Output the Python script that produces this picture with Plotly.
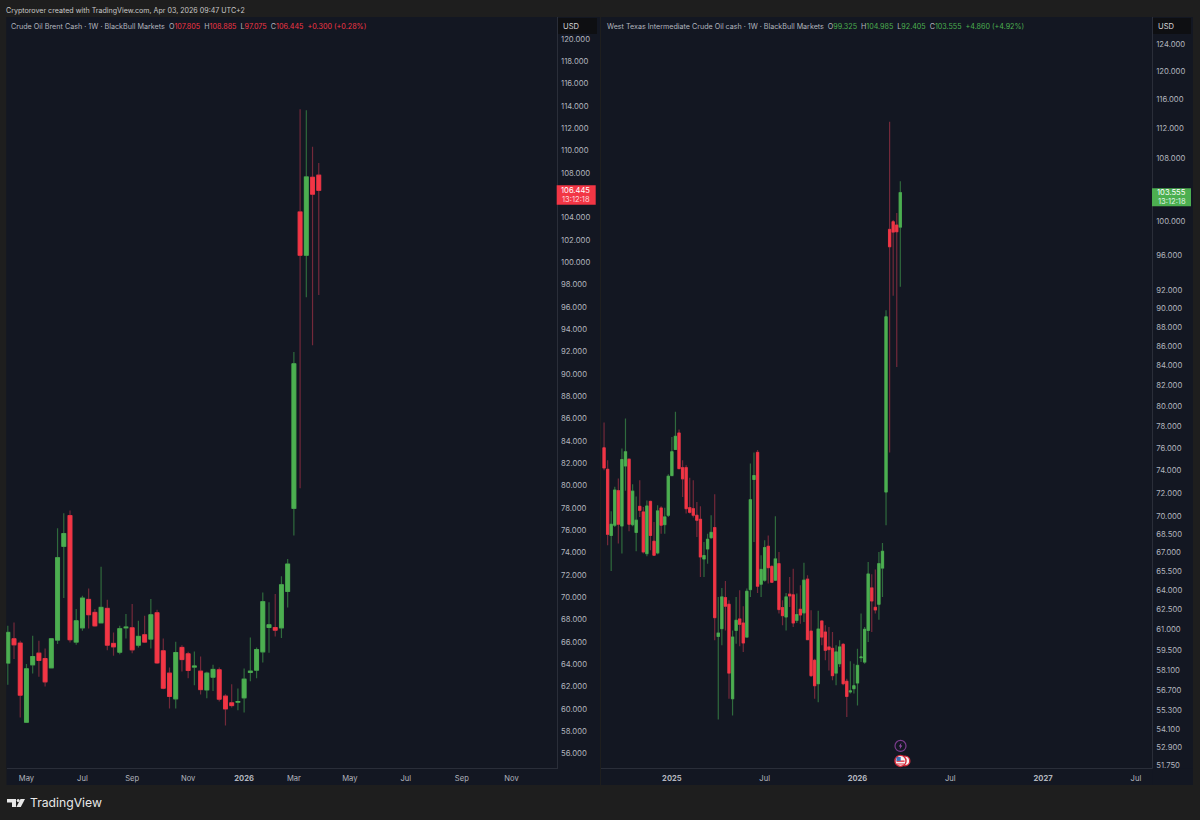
import pandas as pd
import plotly.graph_objects as go

# brent weekly candles
brent_start = "2025-04-14"
brent_open = [64.10, 66.28, 65.89, 58.80, 63.95, 64.99, 64.51, 63.68, 66.16, 74.56,
              77.31, 65.98, 67.26, 69.80, 68.64, 67.71, 69.00, 65.86, 65.08, 67.26,
              67.26, 65.71, 66.64, 66.25, 68.61, 65.20, 63.20, 60.90, 65.50, 64.93,
              63.74, 63.38, 61.70, 62.84, 63.50, 61.14, 60.54, 60.60, 60.99, 63.26,
              63.47, 65.11, 67.29, 67.29, 67.26, 70.52, 77.96, 104.51, 100.63, 107.62,
              107.805]
brent_close = [66.85, 65.74, 61.23, 63.59, 64.69, 64.34, 62.42, 66.28, 73.54, 75.70,
               66.19, 67.89, 69.92, 68.43, 67.44, 69.09, 65.71, 65.56, 67.18, 67.32,
               65.29, 66.49, 65.98, 68.43, 64.12, 61.85, 61.11, 65.05, 64.42, 63.44,
               63.83, 61.73, 63.20, 63.53, 60.87, 60.00, 60.30, 60.66, 62.66, 63.38,
               65.32, 69.60, 67.53, 67.05, 71.12, 72.97, 90.91, 100.63, 107.65, 106.10,
               106.445]
brent_high = [67.44, 67.74, 66.10, 64.01, 66.55, 66.10, 65.41, 66.28, 76.17, 77.52,
              77.76, 68.94, 70.13, 70.79, 68.94, 72.74, 69.78, 66.85, 67.44, 68.49,
              69.39, 67.89, 68.34, 69.84, 68.88, 66.31, 63.71, 66.01, 65.71, 65.11,
              65.14, 64.69, 63.32, 63.95, 63.71, 61.32, 62.21, 61.82, 63.62, 66.40,
              65.50, 70.43, 69.54, 70.28, 71.87, 73.42, 91.96, 113.72, 113.63, 110.34,
              108.885]
brent_low = [62.15, 64.47, 59.22, 58.80, 63.17, 62.87, 62.00, 63.68, 65.80, 69.92,
             65.95, 65.74, 66.99, 67.20, 67.36, 67.71, 65.26, 64.75, 64.90, 66.31,
             64.99, 65.50, 65.89, 65.41, 64.01, 61.76, 60.03, 60.03, 63.35, 62.75,
             62.12, 61.29, 60.96, 61.61, 60.66, 58.50, 60.12, 59.88, 59.67, 62.48,
             62.75, 64.16, 65.02, 66.49, 66.34, 69.09, 75.52, 79.76, 96.86, 92.56,
             97.075]

# wti weekly candles
wti_start = "2024-08-26"
wti_open = [76.03, 74.08, 68.38, 69.23, 72.19, 69.17, 74.38, 74.99, 69.28, 68.63,
            70.83, 70.35, 66.89, 71.25, 67.90, 66.95, 70.69, 69.28, 70.07, 73.52,
            75.88, 77.41, 74.23, 74.23, 70.72, 70.63, 70.07, 69.73, 66.46, 67.27,
            68.19, 69.03, 60.51, 61.08, 63.42, 62.91, 56.11, 60.95, 61.80, 61.50,
            60.46, 64.04, 73.17, 75.61, 64.46, 64.77, 67.49, 65.86, 64.77, 66.08,
            62.66, 61.95, 63.68, 63.63, 61.70, 62.53, 62.26, 64.85, 60.90, 58.78,
            57.14, 61.65, 60.83, 59.74, 59.64, 57.88, 58.54, 59.93, 57.31, 56.58,
            56.80, 57.19, 58.97, 58.66, 60.95, 64.17, 62.68, 62.91, 65.73, 72.07,
            99.05, 99.97, 99.57, 99.325]
wti_close = [74.20, 68.47, 69.31, 72.24, 69.31, 74.96, 75.67, 69.31, 72.14, 69.65,
             70.49, 67.03, 70.86, 68.38, 66.76, 70.44, 69.23, 69.93, 73.46, 75.67,
             77.10, 74.14, 73.23, 70.63, 70.32, 70.07, 69.65, 66.62, 66.73, 68.06,
             68.63, 61.90, 60.75, 63.47, 62.76, 57.88, 60.46, 61.70, 61.40, 60.03,
             63.91, 71.40, 73.52, 64.30, 65.62, 67.38, 65.76, 64.61, 66.46, 62.51,
             62.05, 63.47, 63.55, 61.50, 62.13, 62.10, 64.77, 60.27, 57.70, 57.00,
             61.05, 60.46, 59.50, 59.55, 57.70, 59.38, 59.74, 57.14, 56.27, 56.64,
             57.00, 58.42, 59.02, 61.03, 65.26, 63.16, 62.48, 66.08, 67.08, 89.10,
             96.99, 98.73, 98.77, 103.555]
wti_high = [78.40, 74.90, 70.41, 72.53, 73.26, 75.97, 78.79, 75.05, 72.76, 71.69,
            73.11, 70.77, 71.34, 71.34, 69.51, 70.92, 70.83, 70.72, 73.64, 77.04,
            79.42, 77.73, 74.90, 74.44, 73.32, 73.11, 71.20, 70.83, 67.84, 68.52,
            70.07, 71.87, 63.47, 64.17, 64.70, 63.21, 60.95, 63.47, 63.99, 62.76,
            64.12, 74.60, 75.61, 75.82, 66.76, 67.98, 68.38, 65.95, 69.99, 67.03,
            63.21, 63.78, 65.03, 65.68, 63.73, 64.38, 66.16, 65.16, 62.46, 58.90,
            62.41, 61.70, 61.33, 61.20, 60.83, 59.86, 60.22, 60.03, 57.49, 58.71,
            58.54, 59.62, 62.21, 61.20, 66.21, 65.23, 65.62, 67.03, 67.76, 89.82,
            112.85, 100.20, 101.04, 104.985]
wti_low = [73.99, 67.57, 65.50, 69.08, 67.71, 66.89, 72.19, 68.72, 69.14, 67.08,
           69.93, 66.89, 66.68, 67.16, 66.76, 66.84, 68.52, 68.52, 69.93, 73.46,
           75.82, 74.14, 71.64, 70.21, 70.21, 69.88, 68.25, 65.03, 65.03, 66.08,
           68.11, 60.22, 54.71, 59.86, 60.95, 56.11, 54.99, 59.98, 59.79, 59.38,
           60.46, 63.47, 67.84, 63.78, 63.47, 64.64, 64.51, 64.56, 64.72, 62.21,
           61.33, 60.95, 62.71, 61.20, 61.50, 61.45, 61.58, 60.22, 57.61, 56.11,
           55.88, 59.86, 58.78, 58.07, 57.38, 57.03, 58.30, 57.03, 54.88, 56.46,
           56.46, 55.66, 58.66, 58.54, 60.10, 60.83, 62.21, 61.75, 63.47, 69.22,
           75.61, 91.40, 83.86, 92.405]

brent_tick_dates = ["2025-05-05", "2025-07-07", "2025-09-01", "2025-11-03", "2026-01-05",
                    "2026-03-02", "2026-05-04", "2026-07-06", "2026-09-07", "2026-11-02"]
brent_tick_text = ["May", "Jul", "Sep", "Nov", "<b>2026</b>", "Mar", "May", "Jul", "Sep", "Nov"]
wti_tick_dates = ["2025-01-06", "2025-07-07", "2026-01-05", "2026-07-06", "2027-01-04", "2027-07-05"]
wti_tick_text = ["<b>2025</b>", "Jul", "<b>2026</b>", "Jul", "<b>2027</b>", "Jul"]
# 106 and 104 sit under the last-price tags in the reference
brent_prices = [56, 58, 60, 62, 64, 66, 68, 70, 72, 74, 76, 78, 80, 82, 84, 86, 88, 90, 92, 94,
                96, 98, 100, 102, 104, 108, 110, 112, 114, 116, 118, 120]
wti_prices = [51.75, 52.9, 54.1, 55.3, 56.7, 58.1, 59.5, 61, 62.5, 64, 65.5, 67, 68.5, 70, 72, 74,
              76, 78, 80, 82, 84, 86, 88, 90, 92, 96, 100, 108, 112, 116, 120, 124]

BG = "#1e1e1e"
PANEL = "#131722"
GRID = "#2a2e39"
TEXT = "#b2b5be"
GREEN = "#4caf50"
RED = "#f23645"
GREEN_WICK = "#2f6a3d"
RED_WICK = "#73293a"
FONT = "Inter"


def px(x):
    return x / 1200


def py(y):
    return 1 - y / 820


def add_candles(fig, dates, o, h, l, c, xname, yname):
    # wicks are dimmer than the bodies, so draw them as a separate trace underneath
    fig.add_trace(go.Candlestick(
        x=dates, open=o, high=h, low=l, close=c, xaxis=xname, yaxis=yname,
        increasing=dict(line=dict(color=GREEN_WICK, width=1.2), fillcolor=GREEN),
        decreasing=dict(line=dict(color=RED_WICK, width=1.2), fillcolor=RED),
        hoverinfo="skip", showlegend=False))
    top = [max(a, b) for a, b in zip(o, c)]
    bottom = [min(a, b) for a, b in zip(o, c)]
    fig.add_trace(go.Candlestick(
        x=dates, open=o, high=top, low=bottom, close=c, xaxis=xname, yaxis=yname,
        increasing=dict(line=dict(color=GREEN, width=0.8), fillcolor=GREEN),
        decreasing=dict(line=dict(color=RED, width=0.8), fillcolor=RED),
        hoverinfo="skip", showlegend=False))


def rect(x0, y0, x1, y1, fill, layer="below", line=None):
    return dict(type="rect", xref="paper", yref="paper", x0=px(x0), x1=px(x1), y0=py(y0), y1=py(y1),
                fillcolor=fill, line=dict(color=line or fill, width=1 if line else 0), layer=layer)


def circle(cx, cy, r, fill, line, width=1.2):
    return dict(type="circle", xref="paper", yref="paper", x0=px(cx - r), x1=px(cx + r),
                y0=py(cy + r), y1=py(cy - r), fillcolor=fill, line=dict(color=line, width=width),
                layer="above")


def poly(points, fill):
    d = "M " + " L ".join(f"{px(x):.5f},{py(y):.5f}" for x, y in points) + " Z"
    return dict(type="path", xref="paper", yref="paper", path=d, fillcolor=fill,
                line=dict(width=0), layer="above")


def note(text, x, y, size, color=TEXT, anchor="left"):
    return dict(text=text, x=px(x), y=py(y), xref="paper", yref="paper", showarrow=False,
                xanchor=anchor, yanchor="middle", align=anchor, font=dict(family=FONT, size=size, color=color))


def coloured(color, text):
    return f'<span style="color:{color}">{text}</span>'


brent_dates = pd.date_range(brent_start, periods=len(brent_open), freq="7D")
wti_dates = pd.date_range(wti_start, periods=len(wti_open), freq="7D")

fig = go.Figure()
add_candles(fig, brent_dates, brent_open, brent_high, brent_low, brent_close, "x", "y")
add_candles(fig, wti_dates, wti_open, wti_high, wti_low, wti_close, "x2", "y2")

plot_bottom = 53 / 820
plot_top = 803 / 820
axis_style = dict(showgrid=False, zeroline=False, showline=True, linecolor=GRID, linewidth=1,
                  ticks="outside", ticklen=3, tickcolor=PANEL,
                  tickfont=dict(family=FONT, size=7.6, color=TEXT), tickmode="array")
y_style = dict(axis_style, side="right", ticklen=2,
               tickformat=".3f", tickfont=dict(family=FONT, size=7.7, color=TEXT))

# rendered page came out ~3px short at the bottom, so the figure is a touch taller than the window
fig.update_layout(
    width=1200, height=823, margin=dict(l=0, r=0, t=0, b=0),
    paper_bgcolor=BG, plot_bgcolor=PANEL, boxmode="overlay", boxgap=0.38, boxgroupgap=0,
    hovermode=False, showlegend=False,
    xaxis=dict(axis_style, domain=[px(6.5), px(556.5)], anchor="y", rangeslider=dict(visible=False),
               type="date", range=["2025-04-12 13:00", "2026-12-22 14:00"],
               tickvals=brent_tick_dates, ticktext=brent_tick_text),
    xaxis2=dict(axis_style, domain=[px(601), px(1151.7)], anchor="y2", rangeslider=dict(visible=False),
                type="date", range=["2024-08-20", "2027-08-05"],
                tickvals=wti_tick_dates, ticktext=wti_tick_text),
    yaxis=dict(y_style, domain=[plot_bottom, plot_top], anchor="x", range=[54.71, 121.97],
               tickvals=brent_prices),
    yaxis2=dict(y_style, domain=[plot_bottom, plot_top], anchor="x2", type="log",
                range=[1.71265, 2.10755], tickvals=wti_prices),
)

shapes = [
    rect(6.5, 17, 600, 784, PANEL),
    rect(601, 17, 1193, 784, PANEL),
    # price labels that spill past the chart bottom get cut off by the time strip
    rect(1152.5, 767.5, 1193, 784, PANEL, layer="above"),
    rect(558, 18, 597, 34, "#0e0f12", layer="above"),
    rect(1153, 18, 1191, 34, "#0e0f12", layer="above"),
    rect(556.7, 185, 595.7, 204.5, RED, layer="above"),
    rect(1152, 188, 1191, 206, GREEN, layer="above"),
    # event markers under the wti candles
    circle(900.5, 745, 5.5, PANEL, "#7b3c8c"),
    poly([(901.5, 741.5), (898.8, 745.5), (900.4, 745.5), (899.6, 748.5), (902.3, 744.5), (900.7, 744.5)], "#9c4fb0"),
    circle(905, 760, 4.8, "#f4f4f4", "#d42a3a", 1.4),
    circle(900.5, 760, 5.5, "#f4f4f4", "#d42a3a", 1.4),
    rect(896.5, 759.5, 904.5, 761, "#e04452", layer="above"),
    rect(896.8, 762.5, 904, 763.6, "#e04452", layer="above"),
    rect(896.5, 756, 900.7, 760, "#3f6fb5", layer="above"),
    # tradingview logo
    poly([(7, 798), (16, 798), (16, 806), (12, 806), (12, 801.5), (7, 801.5)], "#e8e8e8"),
    poly([(20.5, 798), (25, 798), (20.8, 806), (16.4, 806)], "#e8e8e8"),
    circle(18.2, 799.5, 1.5, "#e8e8e8", "#e8e8e8", 0),
]

annotations = [
    note("Cryptorover created with TradingView.com, Apr 03, 2026 09:47 UTC+2", 4, 10, 7.1, "#c8c8c8"),
    note("Crude Oil Brent Cash · 1W · BlackBull Markets  "
         "O" + coloured(RED, "107.805") + "  H" + coloured(RED, "108.885") + "  L" + coloured(RED, "97.075")
         + "  C" + coloured(RED, "106.445") + "  " + coloured(RED, "+0.300 (+0.28%)"), 9, 26, 7.2),
    note("West Texas Intermediate Crude Oil cash · 1W · BlackBull Markets  "
         "O" + coloured(GREEN, "99.325") + "  H" + coloured(GREEN, "104.985") + "  L" + coloured(GREEN, "92.405")
         + "  C" + coloured(GREEN, "103.555") + "  " + coloured(GREEN, "+4.860 (+4.92%)"), 605, 26, 7.15),
    note("USD", 571, 26, 7.6, "#d8d8d8", "center"),
    note("USD", 1166, 26, 7.6, "#d8d8d8", "center"),
    note("106.445", 575.5, 190, 7.6, "#ffffff", "center"),
    note("13:12:18", 575.5, 199, 7.6, "#ffd5d9", "center"),
    note("103.555", 1171.5, 192.5, 7.6, "#ffffff", "center"),
    note("13:12:18", 1171.5, 201, 7.6, "#dff3e0", "center"),
    note("TradingView", 28, 802, 12.2, "#e8e8e8"),
]

fig.update_layout(shapes=shapes, annotations=annotations)
# the page's default body margin would push the 1200x820 figure off the window
fig.write_html("out.html", config=dict(displayModeBar=False),
               post_script="document.body.style.margin='0';document.documentElement.style.overflow='hidden';")
